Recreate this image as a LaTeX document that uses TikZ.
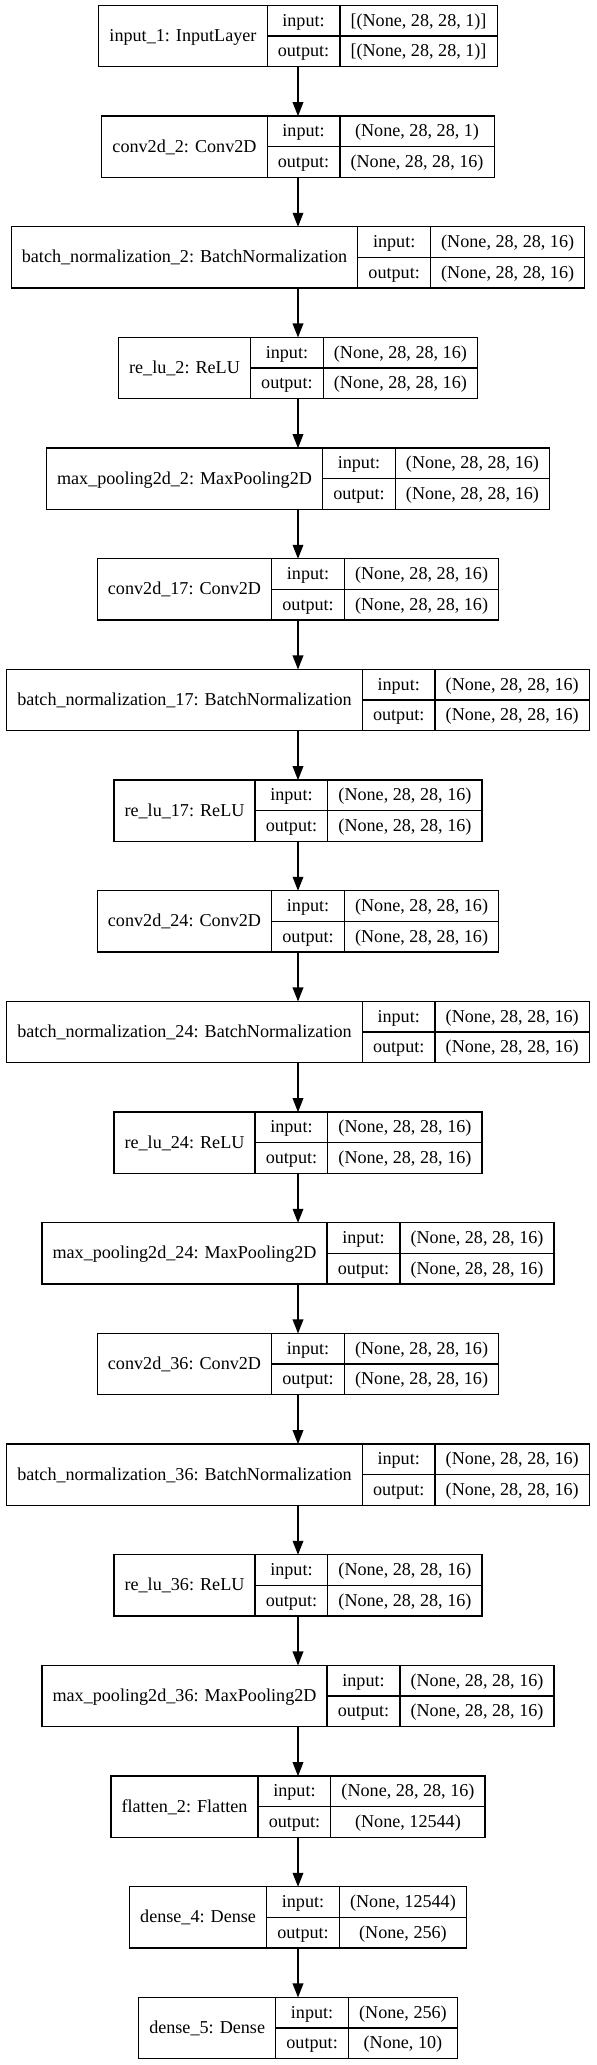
\documentclass[tikz,border=0pt]{standalone}
\usepackage{fontspec}
\setmainfont{Liberation Serif}
\usetikzlibrary{arrows.meta}
\newcommand\kfont{\fontsize{13.6pt}{16pt}\selectfont}
\newlength\kwA \newlength\kwB \newlength\kwC \newlength\kwT \newlength\kxL
\tikzset{
  rec/.style={inner sep=0pt, outer sep=0pt, minimum height=46pt},
  namecell/.style={draw, line width=1pt, inner sep=0pt, outer sep=0pt, text height=27pt, text depth=19pt, font=\kfont},
  rowcell/.style={draw, line width=1pt, inner sep=0pt, outer sep=0pt, text height=15.5pt, text depth=7.5pt, font=\kfont},
  measure/.style={inner sep=0pt, outer sep=0pt, font=\kfont},
  arr/.style={line width=1pt, -{Triangle[length=10.5pt,width=8pt]}}
}
\newcommand\kerasnode[5]{%
  \path (223.5pt,-10pt) node[measure] (#1m) {%
    \settowidth\kwA{#3}\global\kwA=\kwA
    \settowidth\kwB{output:}\global\kwB=\kwB
    \settowidth\kwC{#4}\settowidth\kwT{#5}%
    \ifdim\kwT>\kwC \kwC=\kwT\fi
    \global\kwC=\kwC};%
  \global\advance\kwA by 16pt
  \global\advance\kwB by 16pt
  \global\advance\kwC by 16pt
  \kwT=\dimexpr\kwA+\kwB+\kwC\relax
  \kxL=\dimexpr223.5pt-\kwT/2\relax
  \pgfmathsetmacro\kytop{-(4.1+83*#2)}%
  \node[rec, minimum width=\the\kwT, anchor=north] (#1) at (223.5pt,\kytop pt) {};
  \node[namecell, minimum width=\the\kwA, anchor=north west] (#1n) at (\the\kxL,\kytop pt) {#3};
  \node[rowcell, minimum width=\the\kwB, anchor=north west] (#1i) at (#1n.north east) {input:};
  \node[rowcell, minimum width=\the\kwB, anchor=north west] (#1o) at (#1i.south west) {output:};
  \node[rowcell, minimum width=\the\kwC, anchor=north west] (#1vi) at (#1i.north east) {#4};
  \node[rowcell, minimum width=\the\kwC, anchor=north west] (#1vo) at (#1o.north east) {#5};
}
\begin{document}
\begin{tikzpicture}
\useasboundingbox (0,0) rectangle (447pt,-1548.75pt);
\kerasnode{la}{0}{input\_1: InputLayer}{[(None, 28, 28, 1)]}{[(None, 28, 28, 1)]}
\kerasnode{lb}{1}{conv2d\_2: Conv2D}{(None, 28, 28, 1)}{(None, 28, 28, 16)}
\kerasnode{lc}{2}{batch\_normalization\_2: BatchNormalization}{(None, 28, 28, 16)}{(None, 28, 28, 16)}
\kerasnode{ld}{3}{re\_lu\_2: ReLU}{(None, 28, 28, 16)}{(None, 28, 28, 16)}
\kerasnode{le}{4}{max\_pooling2d\_2: MaxPooling2D}{(None, 28, 28, 16)}{(None, 28, 28, 16)}
\kerasnode{lf}{5}{conv2d\_17: Conv2D}{(None, 28, 28, 16)}{(None, 28, 28, 16)}
\kerasnode{lg}{6}{batch\_normalization\_17: BatchNormalization}{(None, 28, 28, 16)}{(None, 28, 28, 16)}
\kerasnode{lh}{7}{re\_lu\_17: ReLU}{(None, 28, 28, 16)}{(None, 28, 28, 16)}
\kerasnode{lj}{8}{conv2d\_24: Conv2D}{(None, 28, 28, 16)}{(None, 28, 28, 16)}
\kerasnode{lk}{9}{batch\_normalization\_24: BatchNormalization}{(None, 28, 28, 16)}{(None, 28, 28, 16)}
\kerasnode{lm}{10}{re\_lu\_24: ReLU}{(None, 28, 28, 16)}{(None, 28, 28, 16)}
\kerasnode{ln}{11}{max\_pooling2d\_24: MaxPooling2D}{(None, 28, 28, 16)}{(None, 28, 28, 16)}
\kerasnode{lp}{12}{conv2d\_36: Conv2D}{(None, 28, 28, 16)}{(None, 28, 28, 16)}
\kerasnode{lq}{13}{batch\_normalization\_36: BatchNormalization}{(None, 28, 28, 16)}{(None, 28, 28, 16)}
\kerasnode{lr}{14}{re\_lu\_36: ReLU}{(None, 28, 28, 16)}{(None, 28, 28, 16)}
\kerasnode{ls}{15}{max\_pooling2d\_36: MaxPooling2D}{(None, 28, 28, 16)}{(None, 28, 28, 16)}
\kerasnode{lt}{16}{flatten\_2: Flatten}{(None, 28, 28, 16)}{(None, 12544)}
\kerasnode{lu}{17}{dense\_4: Dense}{(None, 12544)}{(None, 256)}
\kerasnode{lv}{18}{dense\_5: Dense}{(None, 256)}{(None, 10)}
\foreach \a/\b in {la/lb,lb/lc,lc/ld,ld/le,le/lf,lf/lg,lg/lh,lh/lj,lj/lk,lk/lm,lm/ln,ln/lp,lp/lq,lq/lr,lr/ls,ls/lt,lt/lu,lu/lv}
  \draw[arr] (\a.south) -- (\b.north);
\end{tikzpicture}
\end{document}
